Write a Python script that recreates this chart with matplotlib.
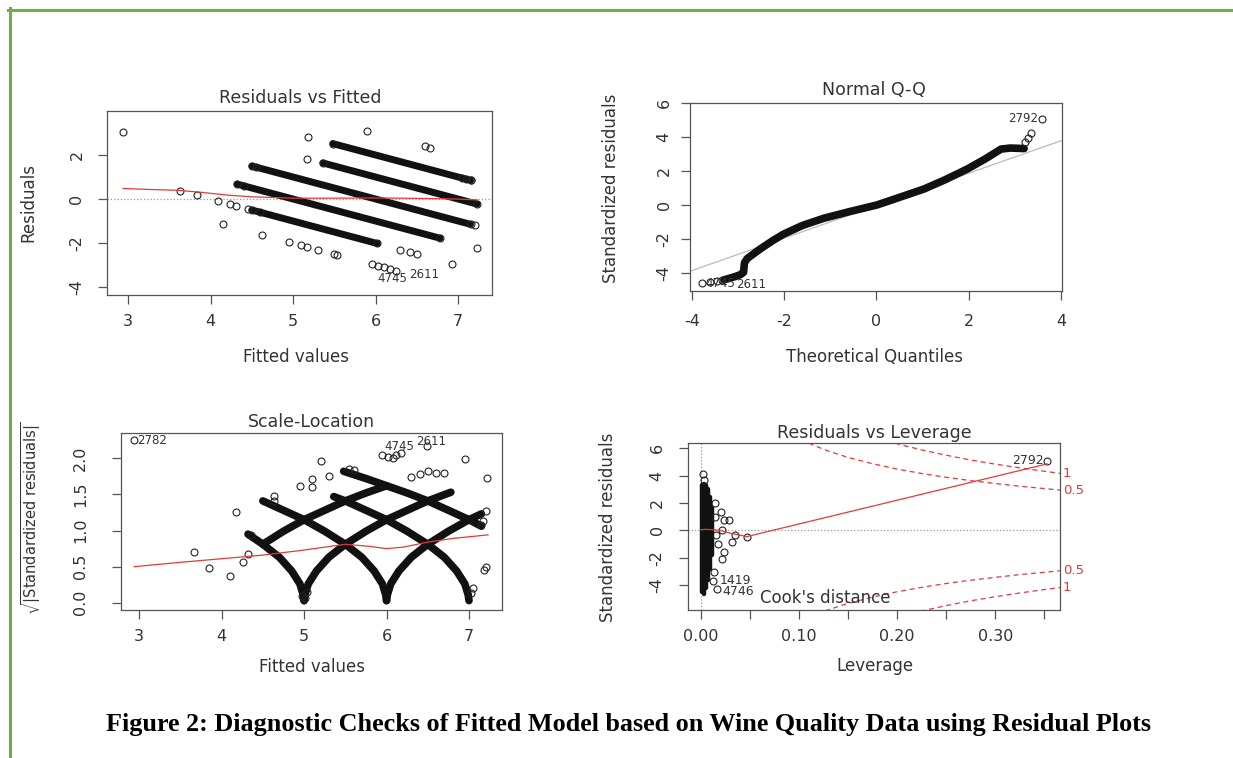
import matplotlib
matplotlib.use("Agg")
import matplotlib.pyplot as plt
from matplotlib.lines import Line2D

plt.rcParams['font.family'] = ['DejaVu Sans']
plt.rcParams['axes.unicode_minus'] = False

# ---------------- data: Residuals vs Fitted ----------------
rvf_band_fit_start = [5.48, 5.36, 4.50, 4.32, 4.50]
rvf_band_fit_end = [7.15, 7.23, 7.15, 6.78, 6.02]
rvf_band_res_start = [2.52, 1.64, 1.50, 0.68, -0.50]
rvf_band_res_end = [0.85, -0.23, -1.15, -1.78, -2.02]
rvf_pts_x = [2.94, 3.63, 3.83, 4.09, 4.24, 4.31, 4.15, 4.62, 4.95, 5.09, 5.17, 5.30,
             5.50, 5.53, 5.17, 5.18, 5.90, 6.60, 6.66, 5.95, 6.03, 6.10, 6.18, 6.25,
             6.93, 7.23, 6.30, 6.42, 6.50, 7.05, 7.10, 7.15, 7.20, 4.40, 4.55, 4.60, 4.45]
rvf_pts_y = [3.06, 0.37, 0.17, -0.09, -0.24, -0.31, -1.15, -1.62, -1.95, -2.09, -2.17, -2.30,
             -2.50, -2.53, 1.83, 2.82, 3.10, 2.40, 2.34, -2.95, -3.03, -3.10, -3.18, -3.25,
             -2.93, -2.23, -2.30, -2.42, -2.50, 0.95, 0.90, 0.85, -1.20, 0.60, 1.45, -0.60, -0.45]
rvf_smooth_x = [2.94, 3.3, 3.6, 3.9, 4.2, 4.5, 5.0, 5.5, 6.0, 6.5, 7.0, 7.23]
rvf_smooth_y = [0.48, 0.43, 0.40, 0.30, 0.18, 0.10, 0.04, 0.04, 0.05, 0.03, 0.0, -0.04]
rvf_id_labels = ["4745", "2611"]
rvf_id_x = [6.02, 6.40]
rvf_id_y = [-3.60, -3.45]

# ---------------- data: Normal Q-Q ----------------
qq_x = [-3.30, -3.17, -3.05, -2.95, -2.88, -2.86, -2.80, -2.70, -2.52, -2.25, -2.01, -1.60,
        -1.14, -0.60, 0.01, 0.50, 1.03, 1.50, 1.97, 2.35, 2.70, 2.90, 3.20]
qq_y = [-4.40, -4.30, -4.20, -4.10, -3.96, -3.40, -3.15, -2.95, -2.59, -2.10, -1.71, -1.20,
        -0.78, -0.40, 0.00, 0.45, 0.94, 1.50, 2.12, 2.70, 3.29, 3.35, 3.32]
qq_pts_x = [-3.77, -3.60, -3.45, -3.35, 3.22, 3.28, 3.35, 3.58]
qq_pts_y = [-4.59, -4.55, -4.45, -4.42, 3.70, 3.95, 4.25, 5.06]
qq_line_intercept = -0.04
qq_line_slope = 0.955
qq_id_labels = ["2792", "4745", "2611"]
qq_id_x = [3.50, -3.70, -3.03]
qq_id_y = [5.06, -4.62, -4.70]

# ---------------- data: Scale-Location ----------------
sl_arcs_x = [
    [4.50, 4.75, 5.00, 5.25, 5.50, 5.75, 6.00],
    [4.32, 4.50, 4.70, 4.85, 4.95, 4.99, 5.00],
    [5.00, 5.01, 5.05, 5.15, 5.30, 5.50, 5.75, 6.00, 6.25, 6.50, 6.78],
    [4.50, 4.75, 5.00, 5.25, 5.50, 5.70, 5.85, 5.95, 5.99, 6.00],
    [6.00, 6.01, 6.05, 6.15, 6.30, 6.50, 6.75, 7.00, 7.15],
    [5.36, 5.50, 5.75, 6.00, 6.25, 6.50, 6.70, 6.85, 6.95, 6.99, 7.00],
    [5.48, 5.75, 6.00, 6.25, 6.50, 6.75, 7.00, 7.15],
]
sl_arcs_y = [
    [0.81, 0.99, 1.15, 1.28, 1.41, 1.52, 1.62],
    [0.95, 0.81, 0.63, 0.44, 0.26, 0.11, 0.03],
    [0.03, 0.11, 0.26, 0.44, 0.63, 0.81, 0.99, 1.15, 1.28, 1.41, 1.53],
    [1.41, 1.28, 1.15, 0.99, 0.81, 0.63, 0.44, 0.26, 0.11, 0.03],
    [0.03, 0.11, 0.26, 0.44, 0.63, 0.81, 0.99, 1.15, 1.23],
    [1.47, 1.41, 1.28, 1.15, 0.99, 0.81, 0.63, 0.44, 0.26, 0.11, 0.03],
    [1.82, 1.72, 1.62, 1.52, 1.41, 1.28, 1.15, 1.06],
]
sl_pts_x = [2.94, 3.67, 3.85, 4.10, 4.18, 4.26, 4.32, 4.36, 4.63, 4.63, 4.95, 5.10, 5.10,
            5.20, 5.30, 5.95, 6.02, 6.08, 6.12, 6.18, 6.49, 6.95, 7.22, 7.21, 7.17, 7.15,
            7.20, 7.18, 7.03, 7.05, 5.01, 5.03, 4.98, 6.30, 6.40, 6.50, 6.60, 6.70, 5.55, 5.60]
sl_pts_y = [2.25, 0.70, 0.48, 0.375, 1.25, 0.57, 0.67, 0.94, 1.48, 1.41, 1.62, 1.71, 1.60,
            1.96, 1.75, 2.05, 2.02, 2.00, 2.05, 2.08, 2.17, 1.99, 1.73, 1.27, 1.13, 1.08,
            0.50, 0.45, 0.13, 0.20, 0.07, 0.15, 0.10, 1.74, 1.78, 1.82, 1.80, 1.80, 1.85, 1.84]
sl_smooth_x = [2.94, 3.5, 4.0, 4.5, 5.0, 5.5, 5.8, 6.0, 6.2, 6.5, 6.8, 7.23]
sl_smooth_y = [0.50, 0.56, 0.61, 0.66, 0.73, 0.81, 0.78, 0.75, 0.77, 0.84, 0.89, 0.94]
sl_id_labels = ["2782", "4745", "2611"]
sl_id_x = [2.97, 5.97, 6.36]
sl_id_y = [2.25, 2.17, 2.23]

# ---------------- data: Residuals vs Leverage ----------------
lev_col_x = [0.001, 0.003, 0.005, 0.007, 0.009, 0.011]
lev_col_lo = [-4.50, -4.60, -4.20, -3.60, -2.80, -1.80]
lev_col_hi = [3.30, 3.40, 3.30, 3.00, 2.40, 1.60]
lev_pts_x = [0.021, 0.024, 0.029, 0.022, 0.035, 0.047, 0.032, 0.024, 0.022, 0.013, 0.012,
             0.017, 0.002, 0.003, 0.353, 0.015, 0.016, 0.018, 0.014]
lev_pts_y = [1.34, 0.73, 0.73, 0.0, -0.37, -0.49, -0.85, -1.6, -2.1, -3.0, -3.7, -4.3,
             4.1, 3.7, 5.06, 1.0, -0.3, -1.0, 2.0]
lev_smooth_x = [0.0, 0.005, 0.012, 0.02, 0.03, 0.047, 0.353]
lev_smooth_y = [0.05, 0.08, 0.05, 0.0, -0.2, -0.45, 4.85]
cook05_h = [0.110, 0.12, 0.13, 0.15, 0.175, 0.2, 0.225, 0.25, 0.275, 0.3, 0.325, 0.35, 0.366]
cook05_r = [6.36, 6.06, 5.78, 5.32, 4.86, 4.47, 4.15, 3.87, 3.63, 3.42, 3.22, 3.05, 2.94]
cook1_h = [0.198, 0.21, 0.225, 0.25, 0.275, 0.3, 0.325, 0.35, 0.366]
cook1_r = [6.36, 6.13, 5.87, 5.48, 5.13, 4.83, 4.56, 4.31, 4.16]
lev_id_labels = ["2792", "1419", "4746"]
lev_id_x = [0.349, 0.019, 0.022]
lev_id_y = [5.06, -3.65, -4.45]

caption = "Figure 2: Diagnostic Checks of Fitted Model based on Wine Quality Data using Residual Plots"

# ---------------- figure ----------------
W, H = 1233, 758
fig = plt.figure(figsize=(W / 100, H / 100), dpi=100)
fig.patch.set_facecolor('white')

BOX = '#555555'
TXT = '#333333'
PT = '#222222'
RED = '#E23A3A'
TICK_PT = 11.5
LAB_PT = 12
TITLE_PT = 12.5
ID_PT = 8.5


def add_ax(x0, y0, x1, y1):
    return fig.add_axes([x0 / W, 1 - y1 / H, (x1 - x0) / W, (y1 - y0) / H])


def ftext(x, y, s, **kw):
    fig.text(x / W, 1 - y / H, s, **kw)


def rstyle(ax, xpad, ypad):
    for s in ax.spines.values():
        s.set_color(BOX)
        s.set_linewidth(0.9)
    ax.tick_params(direction='out', length=6.5, width=0.9, color=BOX,
                   labelsize=TICK_PT, labelcolor=TXT)
    ax.tick_params(axis='x', pad=xpad)
    ax.tick_params(axis='y', pad=ypad, labelrotation=90)
    for lab in ax.get_yticklabels():
        lab.set_va('center')


def circles(ax, x, y, ms=5):
    ax.plot(x, y, 'o', mfc='none', mec=PT, ms=ms, mew=0.8, ls='none')


def band(ax, x, y, lw=5.0):
    ax.plot(x, y, color='#111111', lw=lw, solid_capstyle='round', solid_joinstyle='round')


# ---- Panel 1: Residuals vs Fitted ----
ax1 = add_ax(107, 111, 492, 295)
ax1.set_xlim(2.745, 7.41)
ax1.set_ylim(-4.36, 4.0)
ax1.axhline(0, ls=':', color='#999999', lw=0.9)
for xs, xe, ys, ye in zip(rvf_band_fit_start, rvf_band_fit_end, rvf_band_res_start, rvf_band_res_end):
    band(ax1, [xs, xe], [ys, ye])
    circles(ax1, [xs, xe], [ys, ye])
circles(ax1, rvf_pts_x, rvf_pts_y)
ax1.plot(rvf_smooth_x, rvf_smooth_y, color=RED, lw=0.9)
for lab, x, y in zip(rvf_id_labels, rvf_id_x, rvf_id_y):
    ax1.text(x, y, lab, fontsize=ID_PT, color=TXT, ha='left', va='center')
ax1.set_xticks([3, 4, 5, 6, 7], ['3', '4', '5', '6', '7'])
ax1.set_yticks([-4, -2, 0, 2], ['-4', '-2', '0', '2'])
rstyle(ax1, 7.0, 9.7)
ftext(300, 98, "Residuals vs Fitted", fontsize=TITLE_PT, color=TXT, ha='center', va='center')
ftext(296, 357, "Fitted values", fontsize=LAB_PT, color=TXT, ha='center', va='center')
ftext(28, 202, "Residuals", fontsize=LAB_PT, color=TXT, ha='center', va='center', rotation=90)

# ---- Panel 2: Normal Q-Q ----
ax2 = add_ax(690, 103, 1062, 291)
ax2.set_xlim(-4.04, 4.02)
ax2.set_ylim(-5.06, 6.0)
ax2.axline((0, qq_line_intercept), slope=qq_line_slope, color='#BBBBBB', lw=0.9)
band(ax2, qq_x, qq_y, lw=5.5)
circles(ax2, qq_pts_x, qq_pts_y)
ax2.text(qq_id_x[0], qq_id_y[0], qq_id_labels[0], fontsize=ID_PT, color=TXT, ha='right', va='center')
for lab, x, y in zip(qq_id_labels[1:], qq_id_x[1:], qq_id_y[1:]):
    ax2.text(x, y, lab, fontsize=ID_PT, color=TXT, ha='left', va='center')
ax2.set_xticks([-4, -2, 0, 2, 4], ['-4', '-2', '0', '2', '4'])
ax2.set_yticks([-4, -2, 0, 2, 4, 6], ['-4', '-2', '0', '2', '4', '6'])
rstyle(ax2, 9.8, 6.8)
ftext(874, 90, "Normal Q-Q", fontsize=TITLE_PT, color=TXT, ha='center', va='center')
ftext(875, 357, "Theoretical Quantiles", fontsize=LAB_PT, color=TXT, ha='center', va='center')
ftext(611, 188, "Standardized residuals", fontsize=LAB_PT, color=TXT, ha='center', va='center', rotation=90)

# ---- Panel 3: Scale-Location ----
ax3 = add_ax(121, 433, 502, 610)
ax3.set_xlim(2.78, 7.40)
ax3.set_ylim(-0.10, 2.35)
for xs, ys in zip(sl_arcs_x, sl_arcs_y):
    band(ax3, xs, ys, lw=5.5)
circles(ax3, sl_pts_x, sl_pts_y)
ax3.plot(sl_smooth_x, sl_smooth_y, color=RED, lw=0.9)
for lab, x, y in zip(sl_id_labels, sl_id_x, sl_id_y):
    ax3.text(x, y, lab, fontsize=ID_PT, color=TXT, ha='left', va='center')
ax3.set_xticks([3, 4, 5, 6, 7], ['3', '4', '5', '6', '7'])
ax3.set_yticks([0, 0.5, 1.0, 1.5, 2.0], ['0.0', '0.5', '1.0', '1.5', '2.0'])
rstyle(ax3, 7.0, 17.0)
ftext(311, 422, "Scale-Location", fontsize=TITLE_PT, color=TXT, ha='center', va='center')
ftext(312, 667, "Fitted values", fontsize=LAB_PT, color=TXT, ha='center', va='center')
ftext(31, 518, r"$\sqrt{|\mathrm{Standardized\ residuals}|}$", fontsize=10.5, color=TXT,
      ha='center', va='center', rotation=90)

# ---- Panel 4: Residuals vs Leverage ----
ax4 = add_ax(688, 443, 1060, 610)
ax4.set_xlim(-0.013, 0.366)
ax4.set_ylim(-5.8, 6.37)
ax4.axhline(0, ls=':', color='#999999', lw=0.9)
ax4.axvline(0, ls=':', color='#999999', lw=0.9)
for x, lo, hi in zip(lev_col_x, lev_col_lo, lev_col_hi):
    ax4.plot([x, x], [lo, hi], color='#111111', lw=3.2, solid_capstyle='round')
circles(ax4, lev_pts_x, lev_pts_y)
ax4.plot(lev_smooth_x, lev_smooth_y, color=RED, lw=0.9)
for h, r in ((cook05_h, cook05_r), (cook1_h, cook1_r)):
    ax4.plot(h, r, color=RED, ls=(0, (4, 3)), lw=0.9)
    ax4.plot(h, [-v for v in r], color=RED, ls=(0, (4, 3)), lw=0.9)
for lab, r in (("0.5", cook05_r[-1]), ("1", cook1_r[-1])):
    ax4.text(0.369, r, lab, fontsize=9.5, color=RED, ha='left', va='center', clip_on=False)
    ax4.text(0.369, -r, lab, fontsize=9.5, color=RED, ha='left', va='center', clip_on=False)
ax4.text(lev_id_x[0], lev_id_y[0], lev_id_labels[0], fontsize=ID_PT + 0.5, color=TXT, ha='right', va='center')
for lab, x, y in zip(lev_id_labels[1:], lev_id_x[1:], lev_id_y[1:]):
    ax4.text(x, y, lab, fontsize=ID_PT + 0.5, color=TXT, ha='left', va='center')
ax4.text(0.060, -4.95, "Cook's distance", fontsize=12, color=TXT, ha='left', va='center')
ax4.set_xticks([0, 0.05, 0.10, 0.15, 0.20, 0.25, 0.30, 0.35],
               ['0.00', '', '0.10', '', '0.20', '', '0.30', ''])
ax4.set_yticks([-4, -2, 0, 2, 4, 6], ['-4', '-2', '0', '2', '4', '6'])
rstyle(ax4, 7.0, 10.4)
ftext(874, 433, "Residuals vs Leverage", fontsize=TITLE_PT, color=TXT, ha='center', va='center')
ftext(875, 666, "Leverage", fontsize=LAB_PT, color=TXT, ha='center', va='center')
ftext(608, 527, "Standardized residuals", fontsize=LAB_PT, color=TXT, ha='center', va='center', rotation=90)

# ---- caption, fitted to its width in the reference ----
cap = fig.text(628 / W, 1 - 725 / H, caption, fontfamily='Liberation Serif', fontweight='bold',
               fontsize=16, color='black', ha='center', va='center')
fig.canvas.draw()
wpx = cap.get_window_extent().width
cap.set_fontsize(16 * 1050 / wpx)

# ---- green frame ----
GREEN = '#70AD47'
fig.add_artist(Line2D([8 / W, 1232 / W], [1 - 9.5 / H, 1 - 9.5 / H], color=GREEN, lw=2.2,
                      transform=fig.transFigure))
fig.add_artist(Line2D([9.5 / W, 9.5 / W], [1 - 8 / H, 0], color=GREEN, lw=2.2,
                      transform=fig.transFigure))

fig.savefig("out.png", dpi=100, facecolor='white')
